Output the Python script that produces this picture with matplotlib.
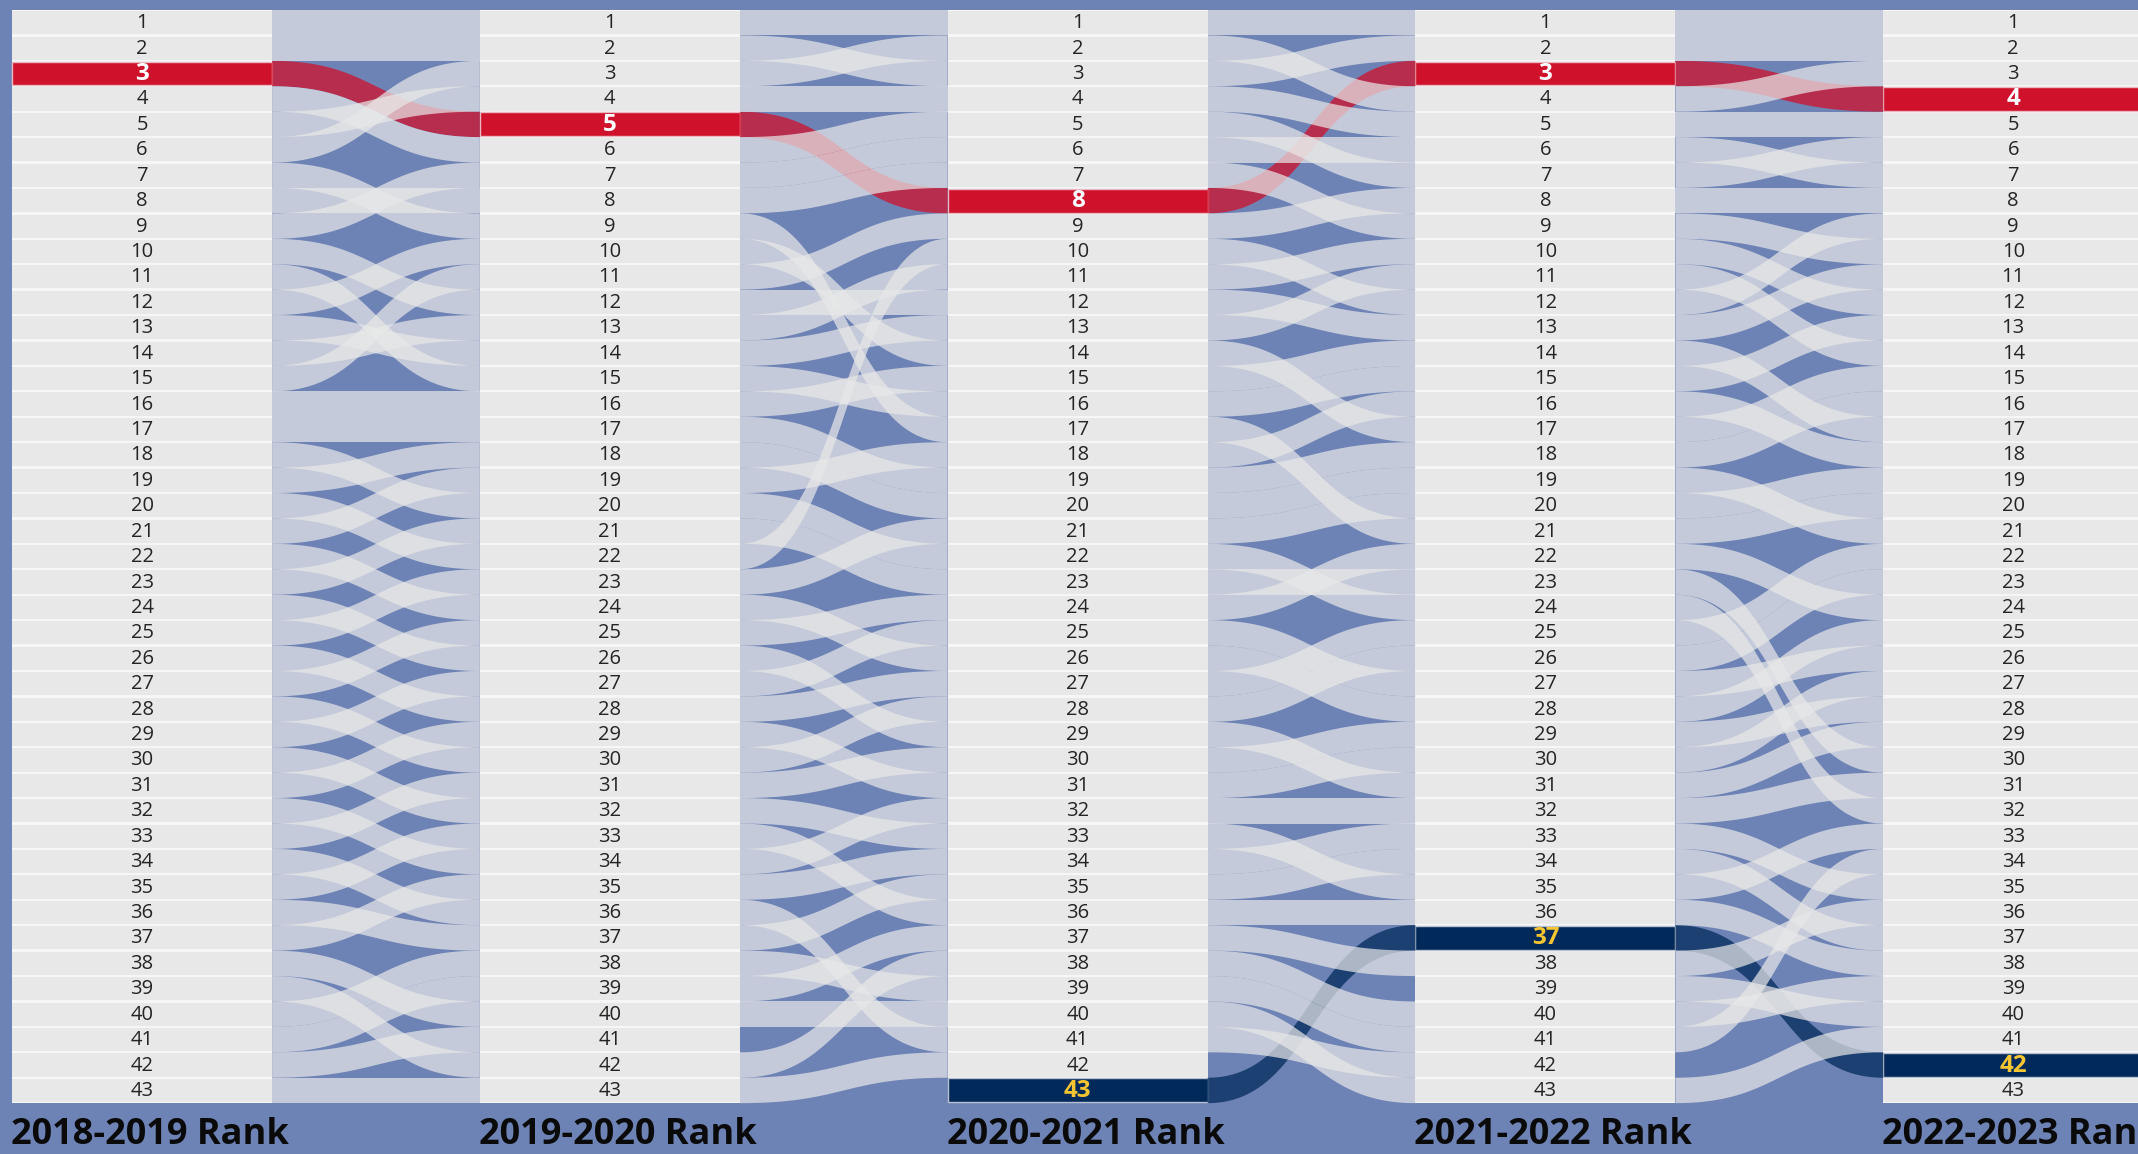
import numpy as np
import matplotlib.pyplot as plt
from matplotlib.patches import Polygon, Rectangle

plt.rcParams['font.family'] = ['Open Sans', 'DejaVu Sans']

seasons = ['2018-2019', '2019-2020', '2020-2021', '2021-2022', '2022-2023']
n_ranks = 43

# rank the team at each position had the next season (None = dropped out of the table)
next_rank_1819 = [1, 2, 5, 6, 4, 3, 9, 8, 7, 12, 15, 10, 14, 13, 11, 16, 17, 20, 18, 22,
                  19, 24, 21, 26, 23, 28, 25, 30, 27, 32, 29, 34, 31, 36, 33, 37, 35, 40, 42, 38,
                  39, 41, 43]
next_rank_1920 = [1, 3, 2, 4, 8, 5, 6, 7, 17, 14, 9, 12, 11, 13, 16, 15, 19, 20, 18, 22,
                  23, 10, 21, 26, 24, 29, 25, 27, 31, 28, 30, 33, 36, 32, 34, 41, 35, 39, 37, 40,
                  None, 38, 42]
next_rank_2021 = [1, 4, 2, 5, 7, 6, 9, 3, 8, 12, 10, 13, 11, 17, 14, 15, 21, 16, 18, 19,
                  20, 24, 23, 22, 27, 28, 25, 26, 31, 29, 30, 32, 35, 33, 34, 36, 38, 40, 41, 43,
                  42, None, 37]
next_rank_2122 = [1, 2, 4, 3, 5, 7, 6, 8, 10, 12, 14, 9, 11, 17, 13, 18, 15, 16, 21, 19,
                  20, 24, 30, 32, 22, 23, 26, 25, 28, 27, 29, 31, 35, 37, 33, 38, 42, 36, 40, 39,
                  34, None, 41]
moves = [next_rank_1819, next_rank_1920, next_rank_2021, next_rank_2122]

# the two highlighted teams
red_team = [3, 5, 8, 3, 4]
navy_team = [None, None, 43, 37, 42]

bg = '#6e83b5'
red = '#d0112b'
navy = '#012a5a'
cell_w = 0.556


def s_curve(x0, x1, y0, y1, n=80):
    t = np.linspace(0, 1, n)
    xm = (x0 + x1) / 2
    x = (1 - t)**3 * x0 + 3 * (1 - t)**2 * t * xm + 3 * (1 - t) * t**2 * xm + t**3 * x1
    y = ((1 - t)**3 + 3 * (1 - t)**2 * t) * y0 + (3 * (1 - t) * t**2 + t**3) * y1
    return x, y


def ribbon(ax, col, a, b, color, alpha, z):
    x0 = col + cell_w
    x1 = col + 1
    x, yt = s_curve(x0, x1, a - 0.5, b - 0.5)
    yb = yt + 1
    pts = np.column_stack([np.concatenate([x, x[::-1]]), np.concatenate([yt, yb[::-1]])])
    ax.add_patch(Polygon(pts, closed=True, facecolor=color, edgecolor='none', alpha=alpha, zorder=z))


fig = plt.figure(figsize=(21.38, 11.54), dpi=100)
fig.patch.set_facecolor(bg)
ax = fig.add_axes([0, 0, 1, 1])
ax.set_facecolor(bg)
ax.set_xlim(-0.0257, 4.5447)
ax.set_ylim(45.50, 0.107)
ax.axis('off')

# rank columns
for i, season in enumerate(seasons):
    ax.add_patch(Rectangle((i, 0.5), cell_w, n_ranks, facecolor='#f6f6f7', edgecolor='none', zorder=1))
    for r in range(1, n_ranks + 1):
        if red_team[i] == r:
            ax.add_patch(Rectangle((i, r - 0.5 + 0.03), cell_w, 0.94, facecolor=red,
                                   edgecolor='#e9b8c0', linewidth=1, zorder=2))
            ax.text(i + cell_w / 2, r + 0.02, str(r), ha='center', va='center', fontsize=17.5,
                    color='white', fontweight='bold', zorder=3)
        elif navy_team[i] == r:
            ax.add_patch(Rectangle((i, r - 0.5 + 0.03), cell_w, 0.94, facecolor=navy,
                                   edgecolor='#b9c1d0', linewidth=1, zorder=2))
            ax.text(i + cell_w / 2, r + 0.02, str(r), ha='center', va='center', fontsize=17.5,
                    color='#f7c531', fontweight='bold', zorder=3)
        else:
            ax.add_patch(Rectangle((i, r - 0.5 + 0.045), cell_w, 0.91, facecolor='#e8e8e8',
                                   edgecolor='none', zorder=2))
            ax.text(i + cell_w / 2, r + 0.02, str(r), ha='center', va='center', fontsize=14.5,
                    color='#252423', zorder=3)
    ax.text(i - 0.002, 44.76, season + ' Rank', ha='left', va='center', fontsize=26,
            fontweight='bold', color='#0a0a0a')

# ribbons between seasons, highlighted teams underneath the grey ones
for i, nxt in enumerate(moves):
    for a, b in enumerate(nxt, start=1):
        if b is None:
            continue
        if red_team[i] == a:
            ribbon(ax, i, a, b, red, 0.75, 2)
        elif navy_team[i] == a:
            ribbon(ax, i, a, b, navy, 0.75, 2)
        else:
            ribbon(ax, i, a, b, '#e8e8e8', 0.71, 3)

fig.savefig('out.png', dpi=100, facecolor=bg)
